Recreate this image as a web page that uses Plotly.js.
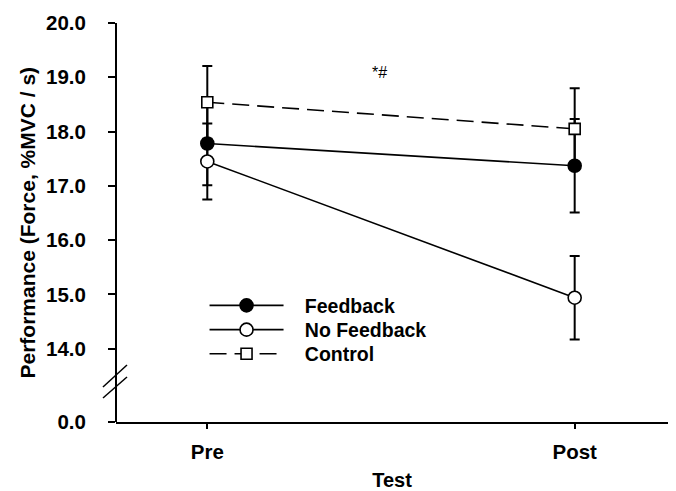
<!DOCTYPE html>
<html>
<head>
<meta charset="utf-8">
<script src="https://cdn.plot.ly/plotly-3.0.1.min.js"></script>
<style>html,body{margin:0;padding:0;background:#fff;}#chart{width:676px;height:491px;}</style>
</head>
<body>
<div id="chart"></div>
<script>
// Data
const tests = ["Pre", "Post"];
const testPos = [0, 1];
const feedbackMean = [17.78, 17.37];
const feedbackErr = [0.77, 0.86];
const noFeedbackMean = [17.45, 14.94];
const noFeedbackErr = [0.70, 0.77];
const controlMean = [18.54, 18.05];
const controlErr = [0.67, 0.75];
const yTicksUpper = [14, 15, 16, 17, 18, 19, 20];
const yTicksLower = [0];

const FONT = "Liberation Sans, Arial, sans-serif";
const bold = {family: FONT, size: 20, color: "#000", weight: "bold"};
const tickBold = {family: FONT, size: 20.5, color: "#000", weight: "bold"};
const PAD = "\u00a0\u00a0\u00a0";

function series(name, y, err, symbol, fill, dash, legendId) {
  return {
    type: "scatter", mode: "lines+markers", name: PAD + name, legend: legendId,
    x: testPos, y: y, xaxis: "x", yaxis: "y",
    line: {color: "#000", width: 1.6, dash: dash},
    marker: {symbol: symbol, size: symbol === "square" ? 11 : 13, color: fill,
             line: {color: "#000", width: 1.6}},
    error_y: {type: "data", array: err, visible: true, color: "#000", thickness: 2, width: 5},
    hoverinfo: "skip"
  };
}

const data = [
  series("Feedback", feedbackMean, feedbackErr, "circle", "#000", "solid", "legend"),
  series("No Feedback", noFeedbackMean, noFeedbackErr, "circle", "#fff", "solid", "legend2"),
  series("Control", controlMean, controlErr, "square", "#fff", "17px,8px", "legend3"),
  // empty trace so the lower (0.0) axis segment exists
  {type: "scatter", mode: "markers", x: [], y: [], xaxis: "x", yaxis: "y2",
   showlegend: false, hoverinfo: "skip"}
];

function legendAt(yPaper) {
  return {x: 0.1604, xanchor: "left", y: yPaper, yanchor: "middle",
          bgcolor: "rgba(0,0,0,0)", borderwidth: 0, itemwidth: 74,
          font: {family: FONT, size: 19.5, color: "#000", weight: "bold"}};
}

const layout = {
  width: 676, height: 491,
  margin: {l: 116, r: 8, t: 23, b: 69, pad: 0},
  paper_bgcolor: "#fff", plot_bgcolor: "#fff",
  showlegend: true,
  legend: legendAt(0.2915),
  legend2: legendAt(0.2306),
  legend3: legendAt(0.1704),
  xaxis: {
    range: [-0.2485, 1.254], anchor: "y2",
    tickvals: testPos, ticktext: tests,
    showgrid: false, zeroline: false,
    showline: true, linecolor: "#000", linewidth: 2,
    ticks: "outside", ticklen: 5, tickwidth: 2, tickcolor: "#000",
    tickfont: tickBold, ticklabelstandoff: 5,
    title: {text: "Test", font: bold, standoff: 15}
  },
  yaxis: {
    domain: [0.1479, 1], range: [13.737, 20], anchor: "x",
    tickvals: yTicksUpper, ticktext: yTicksUpper.map(v => v.toFixed(1)),
    showgrid: false, zeroline: false, showline: false,
    ticks: "outside", ticklen: 7, tickwidth: 2, tickcolor: "#000",
    tickfont: tickBold, ticklabelstandoff: 18
  },
  yaxis2: {
    domain: [0, 0.05], range: [0, 1], anchor: "x",
    tickvals: yTicksLower, ticktext: yTicksLower.map(v => v.toFixed(1)),
    showgrid: false, zeroline: false, showline: false,
    ticks: "outside", ticklen: 7, tickwidth: 2, tickcolor: "#000",
    tickfont: tickBold, ticklabelstandoff: 18
  },
  shapes: [
    {type: "line", xref: "paper", yref: "paper", x0: 0, x1: 0, y0: 0, y1: 1,
     line: {color: "#000", width: 2}},
    {type: "line", xref: "paper", yref: "paper", x0: -0.0236, x1: 0.0199, y0: 0.0877, y1: 0.1429,
     line: {color: "#000", width: 1.5}},
    {type: "line", xref: "paper", yref: "paper", x0: -0.0236, x1: 0.0199, y0: 0.0602, y1: 0.1128,
     line: {color: "#000", width: 1.5}}
  ],
  annotations: [
    {text: "Performance (Force, %MVC / s)", xref: "paper", yref: "paper",
     x: 0, y: 0.5, xshift: -89, xanchor: "center", yanchor: "middle",
     textangle: -90, showarrow: false,
     font: {family: FONT, size: 21, color: "#000", weight: "bold"}},
    {text: "*#", xref: "x", yref: "y", x: 0.47, y: 19.08,
     showarrow: false, font: {family: FONT, size: 16, color: "#000"}}
  ]
};

Plotly.newPlot("chart", data, layout, {displayModeBar: false, staticPlot: true});
</script>
</body>
</html>
